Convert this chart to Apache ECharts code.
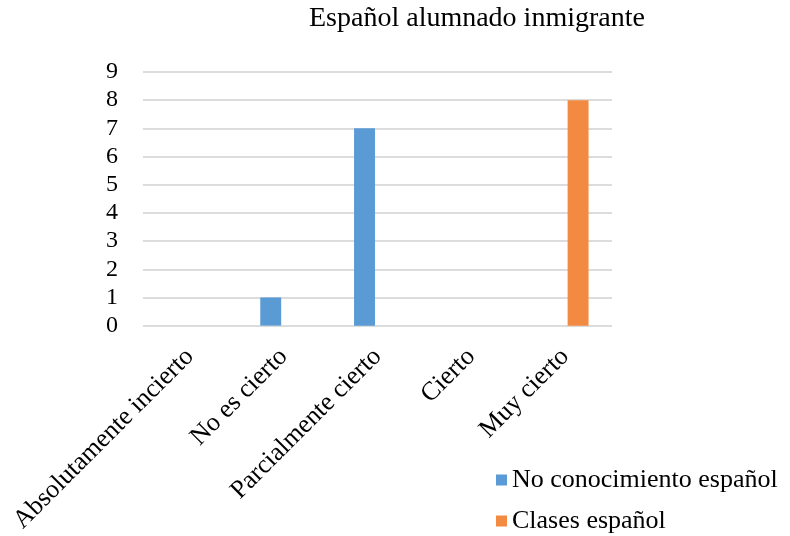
<!DOCTYPE html>
<html><head><meta charset="utf-8">
<script src="https://cdn.jsdelivr.net/npm/echarts@6/dist/echarts.min.js"></script>
<style>html,body{margin:0;padding:0;background:#fff}#c{width:790px;height:536px}</style>
</head><body><div id="c"></div>
<script>
var categories = ['Absolutamente incierto', 'No es cierto', 'Parcialmente cierto', 'Cierto', 'Muy cierto'];
var seriesNames = ['No conocimiento español', 'Clases español'];
var noConocimiento = [0, 1, 7, 0, 0];
var clases = [0, 0, 0, 0, 8];
var yTicks = [0, 1, 2, 3, 4, 5, 6, 7, 8, 9];
var titleText = 'Español alumnado inmigrante';

var font = '"Liberation Serif", "Times New Roman", serif';
var legendText = { fontFamily: font, fontSize: 26, color: '#000' };
var chart = echarts.init(document.getElementById('c'));
chart.setOption({
  animation: false,
  backgroundColor: '#fff',
  title: { text: titleText, left: 309, top: 5, padding: 0,
    textStyle: { fontFamily: font, fontSize: 28, fontWeight: 'normal', color: '#000' } },
  legend: [
    { left: 496, top: 467, padding: 0, itemWidth: 11, itemHeight: 11, itemGap: 0,
      icon: 'rect', textStyle: legendText, data: [seriesNames[0]] },
    { left: 496, top: 508, padding: 0, itemWidth: 11, itemHeight: 11, itemGap: 0,
      icon: 'rect', textStyle: legendText, data: [seriesNames[1]] }
  ],
  grid: { left: 143, right: 178, top: 72, bottom: 210, containLabel: false },
  xAxis: { type: 'category', data: categories,
    axisLine: { show: false }, axisTick: { show: false },
    axisLabel: { rotate: 45, interval: 0, margin: 27, fontFamily: font, fontSize: 26, color: '#000' } },
  yAxis: { type: 'value', min: yTicks[0], max: yTicks[yTicks.length-1], interval: 1,
    axisLine: { show: false }, axisTick: { show: false },
    splitLine: { lineStyle: { color: '#d0d0d0', width: 1.5 } },
    axisLabel: { margin: 25, fontFamily: font, fontSize: 24, color: '#000' } },
  series: [
    { name: seriesNames[0], type: 'bar', data: noConocimiento, itemStyle: { color: '#5B9BD5' },
      barGap: '24%', barCategoryGap: '50%' },
    { name: seriesNames[1], type: 'bar', data: clases, itemStyle: { color: '#F28A42' } }
  ]
});
</script></body></html>
